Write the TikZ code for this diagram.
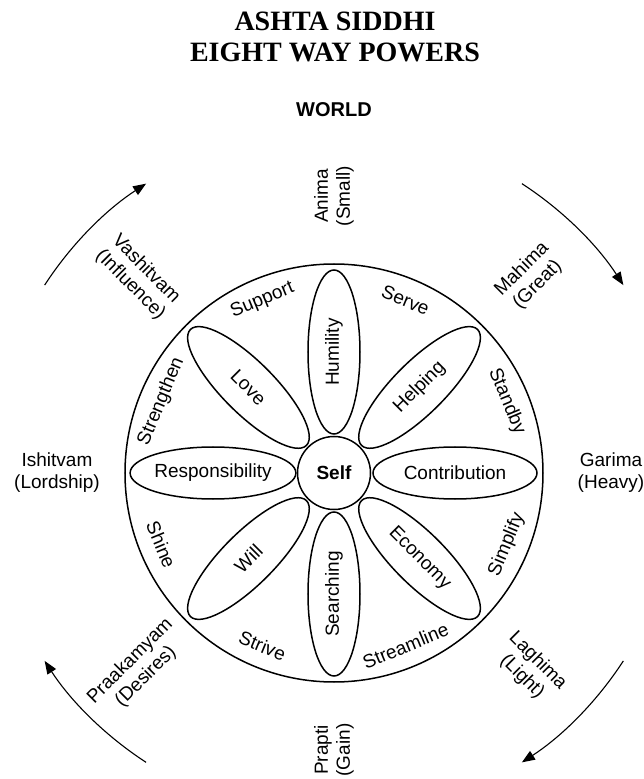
\documentclass[tikz,border=0pt]{standalone}
\usepackage{fontspec}
\setmainfont{Liberation Sans}
\newfontfamily\titlefont{Liberation Serif}
\usetikzlibrary{arrows.meta,shapes.geometric}

\tikzset{
  petal/.style={draw, ellipse, line width=1.5pt, minimum width=164pt, minimum height=52pt, inner sep=0pt},
  deed/.style={inner sep=0pt},
  power/.style={align=center, inner sep=0pt},
  turn/.style={line width=1.1pt, -{Triangle[length=13pt,width=10pt]}}
}

\begin{document}
\begin{tikzpicture}[x=1pt,y=1pt,font=\fontsize{19}{22}\selectfont]
\useasboundingbox (-334,-306) rectangle (310,473);
%draw title
\node[align=center, font=\titlefont\bfseries\fontsize{28}{31}\selectfont] (title) at (1,436) {ASHTA SIDDHI\\EIGHT WAY POWERS};
\node[font=\bfseries\fontsize{20}{22}\selectfont] (world) at (0,363) {WORLD};
%draw outer circle and self
\coordinate (o) at (0,0);
\draw[line width=1.5pt] (o) circle (209);
\node[draw, circle, line width=1.5pt, minimum size=73pt, inner sep=0pt, font=\bfseries\fontsize{19}{22}\selectfont] (self) at (o) {Self};
%draw petals
\foreach \a/\r/\t/\n in {90/90/Humility/hum, 45/45/Helping/help, 0/0/Contribution/con, -45/-45/Economy/eco,
  -90/90/Searching/sea, -135/45/Will/will, 180/0/Responsibility/resp, 135/-45/Love/love}{
  \node[petal, rotate=\r] (\n) at (\a:121) {\t};
}
%draw words between petals
\foreach \a/\r/\t in {112.5/22.5/Support, 67.5/-22.5/Serve, 22.5/-67.5/Standby, -22.5/67.5/Simplify,
  -67.5/22.5/Streamline, -112.5/-22.5/Strive, -157.5/-67.5/Shine, 157.5/67.5/Strengthen}{
  \node[deed, rotate=\r] (\t) at (\a:187) {\t};
}
%draw the eight powers
\foreach \a/\r/\t/\n in {90/90/{Anima\\(Small)}/anima, 45/45/{Mahima\\(Great)}/mahima,
  0/0/{Garima\\(Heavy)}/garima, -45/-45/{Laghima\\(Light)}/laghima,
  -90/90/{Prapti\\(Gain)}/prapti, -135/45/{Praakamyam\\(Desires)}/praakamyam,
  180/0/{Ishitvam\\(Lordship)}/ishitvam, 135/-45/{Vashitvam\\(Influence)}/vashitvam}{
  \node[power, rotate=\r] (\n) at (\a:277) {\t};
}
%draw arrows going round
\foreach \s/\e in {147/123, 57/33, -33/-57, -123/-147}{
  \draw[turn] (\s:345) arc[start angle=\s, end angle=\e, radius=345];
}
\end{tikzpicture}
\end{document}
